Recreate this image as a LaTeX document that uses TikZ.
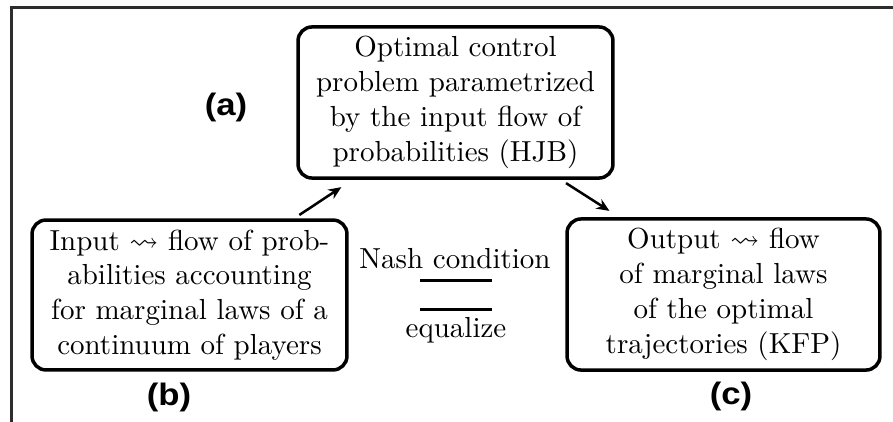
\documentclass[tikz,border=0pt]{standalone}
\usepackage{amssymb}
\usepackage{fontspec}
\newfontfamily\labfont{Liberation Sans}
\usetikzlibrary{calc,arrows.meta}
\tikzset{
  box/.style={draw, line width=3.5pt, rounded corners=14pt, scale=2.9, align=center, inner sep=0pt, font=\fontsize{10}{12}\selectfont},
  txt/.style={scale=2.9, inner sep=0pt, font=\fontsize{10}{12}\selectfont},
  lab/.style={font=\labfont\bfseries\fontsize{31}{33}\selectfont, inner sep=0pt, xscale=1.12},
  arr/.style={line width=2.5pt, -{Stealth[length=13pt,width=11pt]}},
  frame/.style={line width=3pt, draw={rgb,255:red,45;green,45;blue,45}},
  bar/.style={line width=3pt}
}
\begin{document}
\begin{tikzpicture}[x=1pt,y=-1pt]
\useasboundingbox (0,0) rectangle (893,422);
\draw[frame] (10,8) -- (893,8);
\draw[frame] (11,8) -- (11,422);
\node[box, minimum width=108.6pt, minimum height=52.1pt] (A) at (455.5,102.5)
  {Optimal control\\ problem parametrized\\ by the input flow of\\ probabilities (HJB)};
\node[box, minimum width=108.6pt, minimum height=51.7pt] (B) at (189.5,295)
  {Input $\leadsto$ flow of prob-\\ abilities accounting\\ for marginal laws of a\\ continuum of players};
\node[box, minimum width=107.9pt, minimum height=52.1pt] (C) at (723.5,294.5)
  {Output $\leadsto$ flow\\ of marginal laws\\ of the optimal\\ trajectories (KFP)};
\node[txt] (N) at (455,259) {Nash condition};
\node[txt] (E) at (456,330) {equalize};
\coordinate (L1a) at (420,280); \coordinate (L1b) at (492,280);
\coordinate (L2a) at (420,309); \coordinate (L2b) at (492,309);
\draw[bar] (L1a) -- (L1b);
\draw[bar] (L2a) -- (L2b);
\draw[arr] ($(B.north west)!0.838!(B.north east)$) -- ($(A.south west)!0.149!(A.south east)+(0,4)$);
\draw[arr] ($(A.south west)!0.84!(A.south east)$) -- ($(C.north west)!0.147!(C.north east)+(0,-3)$);
\node[lab] (la) at (226,107) {(a)};
\node[lab] (lb) at (169,397) {(b)};
\node[lab] (lc) at (731,396) {(c)};
\end{tikzpicture}
\end{document}
